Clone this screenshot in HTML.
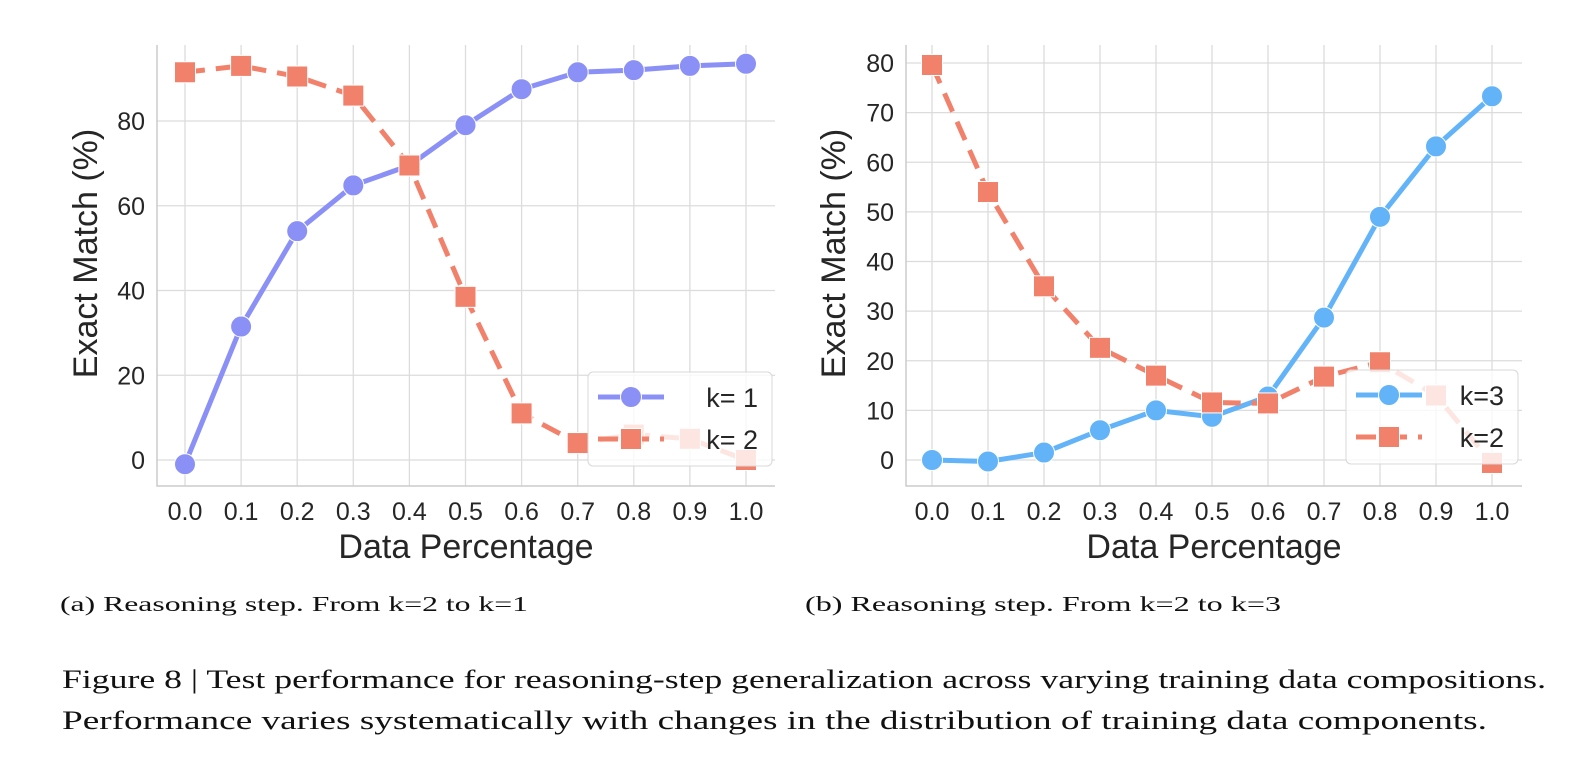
<!DOCTYPE html>
<html><head><meta charset="utf-8"><style>
body{margin:0;background:#fff;}
svg{display:block;font-family:"Liberation Sans",sans-serif;}
.cap{font-family:"Liberation Serif",serif;fill:#111;}
</style></head><body>
<svg id="fig" width="1591" height="779" viewBox="0 0 1591 779" xmlns="http://www.w3.org/2000/svg">
<text class="cap" x="60" y="611" font-size="21" textLength="468" lengthAdjust="spacingAndGlyphs">(a) Reasoning step. From k=2 to k=1</text>
<text class="cap" x="805" y="611" font-size="21" textLength="476" lengthAdjust="spacingAndGlyphs">(b) Reasoning step. From k=2 to k=3</text>
<text class="cap" x="62" y="688" font-size="26" textLength="1484" lengthAdjust="spacingAndGlyphs">Figure 8 | Test performance for reasoning-step generalization across varying training data compositions.</text>
<text class="cap" x="62" y="729" font-size="26" textLength="1425" lengthAdjust="spacingAndGlyphs">Performance varies systematically with changes in the distribution of training data components.</text>
</svg>
<script>
const xCats = [0.0,0.1,0.2,0.3,0.4,0.5,0.6,0.7,0.8,0.9,1.0];
const xTickLabels = ["0.0","0.1","0.2","0.3","0.4","0.5","0.6","0.7","0.8","0.9","1.0"];
const leftK1 = [-1,31.5,54,64.8,69.5,79,87.5,91.5,92,93,93.5];
const leftK2 = [91.5,93,90.5,86,69.5,38.5,11,4,6,5,0];
const leftYTicks = [0,20,40,60,80];
const rightK3 = [0,-0.3,1.5,6,10,8.7,12.8,28.7,49,63.2,73.3];
const rightK2 = [79.6,54,35,22.6,17,11.6,11.4,16.8,19.7,13,-0.6];
const rightYTicks = [0,10,20,30,40,50,60,70,80];

const NS="http://www.w3.org/2000/svg";
const svg=document.getElementById('fig');
function mk(tag,attrs,parent){const e=document.createElementNS(NS,tag);for(const k in attrs)e.setAttribute(k,attrs[k]);(parent||svg).appendChild(e);return e;}

function chart(cfg){
  const g=mk('g',{});
  
  
  const xs=v=>cfg.x0+(v-0)*(cfg.x1-cfg.x0);
  const ys=v=>cfg.y0-(v-0)*(cfg.y0-cfg.yTop)/cfg.yTopVal;
  cfg.yTicks.forEach(t=>{
    const l=mk('line',{x1:cfg.L,x2:cfg.R,y1:ys(t),y2:ys(t),stroke:'#dcdcdc','stroke-width':1.3},g);
    
    
    const tx=mk('text',{x:cfg.L-12,y:ys(t)+9,'text-anchor':'end','font-size':25,fill:'#262626'},g);
    tx.textContent=t;
    
    
  });
  xCats.forEach((c,i)=>{
    const l=mk('line',{x1:xs(c),x2:xs(c),y1:cfg.T,y2:cfg.B,stroke:'#dcdcdc','stroke-width':1.3},g);
    
    
    const tx=mk('text',{x:xs(c),y:cfg.B+34,'text-anchor':'middle','font-size':25,fill:'#262626'},g);
    tx.textContent=xTickLabels[i];
    
    
  });
  const sp=mk('path',{d:`M${cfg.L},${cfg.T}V${cfg.B}H${cfg.R}`,fill:'none',stroke:'#cccccc','stroke-width':1.5},g);
  
  
  const xl=mk('text',{x:(cfg.L+cfg.R)/2,y:cfg.B+72,'text-anchor':'middle','font-size':34,fill:'#262626'},g);
  xl.textContent='Data Percentage';
  
  
  const yl=mk('text',{x:0,y:0,'text-anchor':'middle','font-size':34,fill:'#262626',transform:`translate(${cfg.yLabX},${(cfg.T+cfg.B)/2-12}) rotate(-90)`},g);
  yl.textContent='Exact Match (%)';
  
  
  function series(vals,color,dash,shape,name){
    const sg=mk('g',{},g);
    
    
    const pts=vals.map((v,i)=>xs(xCats[i])+','+ys(v)).join(' ');
    const pl=mk('polyline',{points:pts,fill:'none',stroke:color,'stroke-width':5,'stroke-dasharray':dash||'none','stroke-linejoin':'round'},sg);
    
    
    vals.forEach((v,i)=>{
      let m;
      if(shape==='circle') m=mk('circle',{cx:xs(xCats[i]),cy:ys(v),r:10.5,fill:color,stroke:'#fff','stroke-width':1},sg);
      else m=mk('rect',{x:xs(xCats[i])-10.5,y:ys(v)-10.5,width:21,height:21,fill:color,stroke:'#fff','stroke-width':1},sg);
      
      
    });
  }
  series(cfg.s1,cfg.c1,null,'circle',cfg.n1);
  series(cfg.s2,'#f2816b','20 11','square',cfg.n2);
  const lg=mk('g',{},g);
  
  
  mk('rect',{x:cfg.lx,y:cfg.ly,width:cfg.lw,height:94,rx:5,fill:'rgba(255,255,255,0.8)',stroke:'#d8d8d8','stroke-width':1},lg);
  const e1=mk('g',{},lg);
  
  
  mk('line',{x1:cfg.lx+10,x2:cfg.lx+76,y1:cfg.ly+25,y2:cfg.ly+25,stroke:cfg.c1,'stroke-width':5},e1);
  mk('circle',{cx:cfg.lx+43,cy:cfg.ly+25,r:10.5,fill:cfg.c1,stroke:'#fff'},e1);
  const t1=mk('text',{x:cfg.lx+cfg.lw-14,y:cfg.ly+35,'text-anchor':'end','font-size':27,fill:'#262626'},e1);
  t1.textContent=cfg.l1;
  const e2=mk('g',{},lg);
  
  
  mk('line',{x1:cfg.lx+10,x2:cfg.lx+76,y1:cfg.ly+67,y2:cfg.ly+67,stroke:'#f2816b','stroke-width':5,'stroke-dasharray':'20 11'},e2);
  mk('rect',{x:cfg.lx+32.5,y:cfg.ly+56.5,width:21,height:21,fill:'#f2816b',stroke:'#fff'},e2);
  const t2=mk('text',{x:cfg.lx+cfg.lw-14,y:cfg.ly+77,'text-anchor':'end','font-size':27,fill:'#262626'},e2);
  t2.textContent=cfg.l2;
}
chart({name:'chart-a',L:157,R:775,T:45,B:486,x0:185,x1:746,y0:460,yTop:121,yTopVal:80,yTicks:leftYTicks,yLabX:97,
  s1:leftK1,c1:'#8b90f7',n1:'series-k1',l1:'k= 1',s2:leftK2,n2:'series-k2',l2:'k= 2',lx:588,ly:372,lw:184});
chart({name:'chart-b',L:906,R:1522,T:45,B:486,x0:932,x1:1492,y0:460,yTop:63,yTopVal:80,yTicks:rightYTicks,yLabX:845,
  s1:rightK3,c1:'#63b3f9',n1:'series-k3',l1:'k=3',s2:rightK2,n2:'series-k2',l2:'k=2',lx:1346,ly:370,lw:172});
</script>
</body></html>
